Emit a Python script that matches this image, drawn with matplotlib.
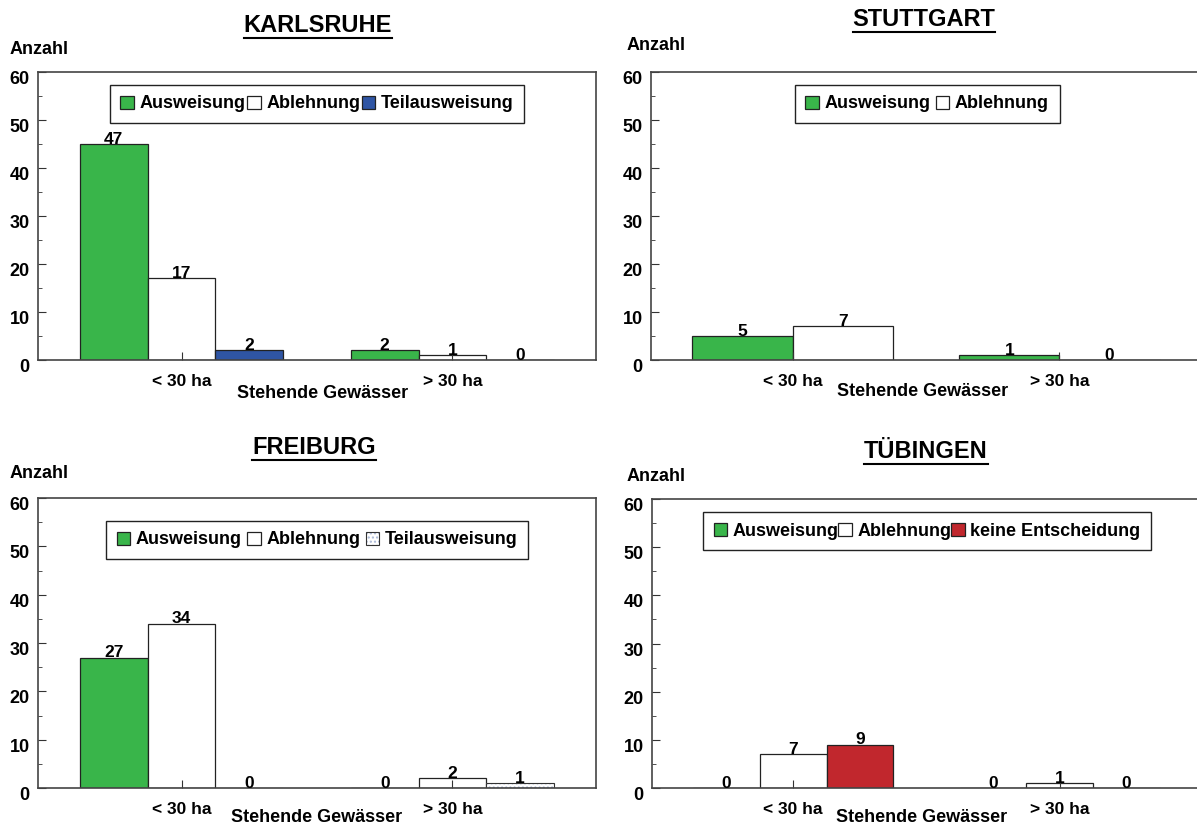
import matplotlib.pyplot as plt
import numpy as np
from matplotlib.patches import Patch
from matplotlib.lines import Line2D
from matplotlib.transforms import ScaledTranslation

plt.rcParams['font.family'] = ['Liberation Sans', 'DejaVu Sans']
plt.rcParams['font.weight'] = 'bold'

# data
groups = ["< 30 ha", "> 30 ha"]

karlsruhe_aus = [45, 2]          # drawn bar height (printed label says 47)
karlsruhe_aus_printed = [47, 2]
karlsruhe_abl = [17, 1]
karlsruhe_teil = [2, 0]

stuttgart_aus = [5, 1]
stuttgart_abl = [7, 0]

freiburg_aus = [27, 0]
freiburg_abl = [34, 2]
freiburg_teil = [0, 1]

tuebingen_aus = [0, 0]
tuebingen_abl = [7, 1]
tuebingen_keine = [9, 0]

GREEN = '#39B54A'
BLUE = '#2F55A4'
RED = '#C1272D'
DOTS = '#A9B7D6'

W, H = 1197, 825
fig = plt.figure(figsize=(W / 100, H / 100), dpi=100)


def fx(x):
    return x / W


def fy(y):
    return 1 - y / H


def px_axes(left, top, right, bottom):
    return fig.add_axes([fx(left), fy(bottom), (right - left) / W, (bottom - top) / H])


titles = []


def panel(rect, title, title_xy, anzahl_xy, xlabel_xy, series, legend_xy, colspacing):
    ax = px_axes(*rect)
    n = len(series)
    width = 0.75 / n
    x = np.arange(len(groups))
    handles = []
    for i, (name, vals, printed, style) in enumerate(series):
        pos = x + (i - (n - 1) / 2) * width
        if style == 'dots':
            ax.bar(pos, vals, width, color='white', edgecolor=DOTS, hatch='....', lw=0)
            ax.bar(pos, vals, width, fill=False, edgecolor='#333333', lw=0.8)
            h = (Patch(facecolor='white', edgecolor=DOTS, hatch='....', lw=0),
                 Patch(fill=False, edgecolor='#333333', lw=0.8))
        else:
            ax.bar(pos, vals, width, color=style, edgecolor='#222222', lw=0.9)
            h = Patch(facecolor=style, edgecolor='#222222', lw=0.9)
        handles.append(h)
        for px_, v, p in zip(pos, vals, printed):
            ax.annotate(str(p), (px_, v), xytext=(0, 3.5), textcoords='offset points',
                        ha='center', va='center', fontsize=12.5)
    ax.set_xlim(-0.53, 1.53)
    ax.set_ylim(0, 60)
    ax.set_xticks(x)
    ax.set_xticklabels(groups, fontsize=12.5)
    ax.set_yticks(range(0, 61, 10))
    ax.set_yticks(range(5, 60, 10), minor=True)
    ax.tick_params(axis='y', which='major', direction='in', length=6, pad=6,
                   labelsize=13, color='#333333')
    ax.tick_params(axis='y', which='minor', direction='in', length=3, color='#333333')
    ax.tick_params(axis='x', direction='in', length=6, pad=10, color='#333333')
    for lab in ax.get_yticklabels():
        lab.set_transform(lab.get_transform() + ScaledTranslation(0, -4 / 72, fig.dpi_scale_trans))
    for s in ax.spines.values():
        s.set_color('#444444')
        s.set_linewidth(1.2)

    leg = ax.legend(handles, [s[0] for s in series], loc='center',
                    bbox_to_anchor=(fx(legend_xy[0]), fy(legend_xy[1])),
                    bbox_transform=fig.transFigure, ncol=n, fontsize=13,
                    frameon=True, fancybox=False, framealpha=1, edgecolor='#222222',
                    handlelength=0.75, handleheight=0.75, handletextpad=0.3,
                    columnspacing=colspacing, borderpad=0.6)
    leg.get_frame().set_linewidth(1)

    t = fig.text(fx(title_xy[0]), fy(title_xy[1]), title, ha='center', va='center',
                 fontsize=17)
    titles.append(t)
    fig.text(fx(anzahl_xy[0]), fy(anzahl_xy[1]), "Anzahl", ha='left', va='center',
             fontsize=13)
    fig.text(fx(xlabel_xy[0]), fy(xlabel_xy[1]), "Stehende Gewässer", ha='center',
             va='center', fontsize=13)
    return ax


panel((38, 72, 596, 360), "KARLSRUHE", (318, 25), (10, 50), (323, 394),
      [("Ausweisung", karlsruhe_aus, karlsruhe_aus_printed, GREEN),
       ("Ablehnung", karlsruhe_abl, karlsruhe_abl, 'white'),
       ("Teilausweisung", karlsruhe_teil, karlsruhe_teil, BLUE)],
      (317, 104), 0.1)

panel((651, 72, 1201, 360), "STUTTGART", (924, 19), (627, 45), (923, 392),
      [("Ausweisung", stuttgart_aus, stuttgart_aus, GREEN),
       ("Ablehnung", stuttgart_abl, stuttgart_abl, 'white')],
      (927, 104), 0.3)

panel((38, 498, 596, 788), "FREIBURG", (314, 447), (10, 473), (317, 818),
      [("Ausweisung", freiburg_aus, freiburg_aus, GREEN),
       ("Ablehnung", freiburg_abl, freiburg_abl, 'white'),
       ("Teilausweisung", freiburg_teil, freiburg_teil, 'dots')],
      (317, 540), 0.3)

panel((652, 499, 1201, 788), "TÜBINGEN", (926, 451), (627, 476), (922, 818),
      [("Ausweisung", tuebingen_aus, tuebingen_aus, GREEN),
       ("Ablehnung", tuebingen_abl, tuebingen_abl, 'white'),
       ("keine Entscheidung", tuebingen_keine, tuebingen_keine, RED)],
      (927, 531), 0.0)

# underline the titles
fig.canvas.draw()
r = fig.canvas.get_renderer()
inv = fig.transFigure.inverted()
for t in titles:
    bb = t.get_window_extent(r)
    (x0, y0), (x1, _) = inv.transform([(bb.x0, bb.y0), (bb.x1, bb.y1)])
    fig.add_artist(Line2D([x0, x1], [y0 - 0.002, y0 - 0.002], transform=fig.transFigure,
                          color='black', lw=1.5))

fig.savefig("out.png", dpi=100)
